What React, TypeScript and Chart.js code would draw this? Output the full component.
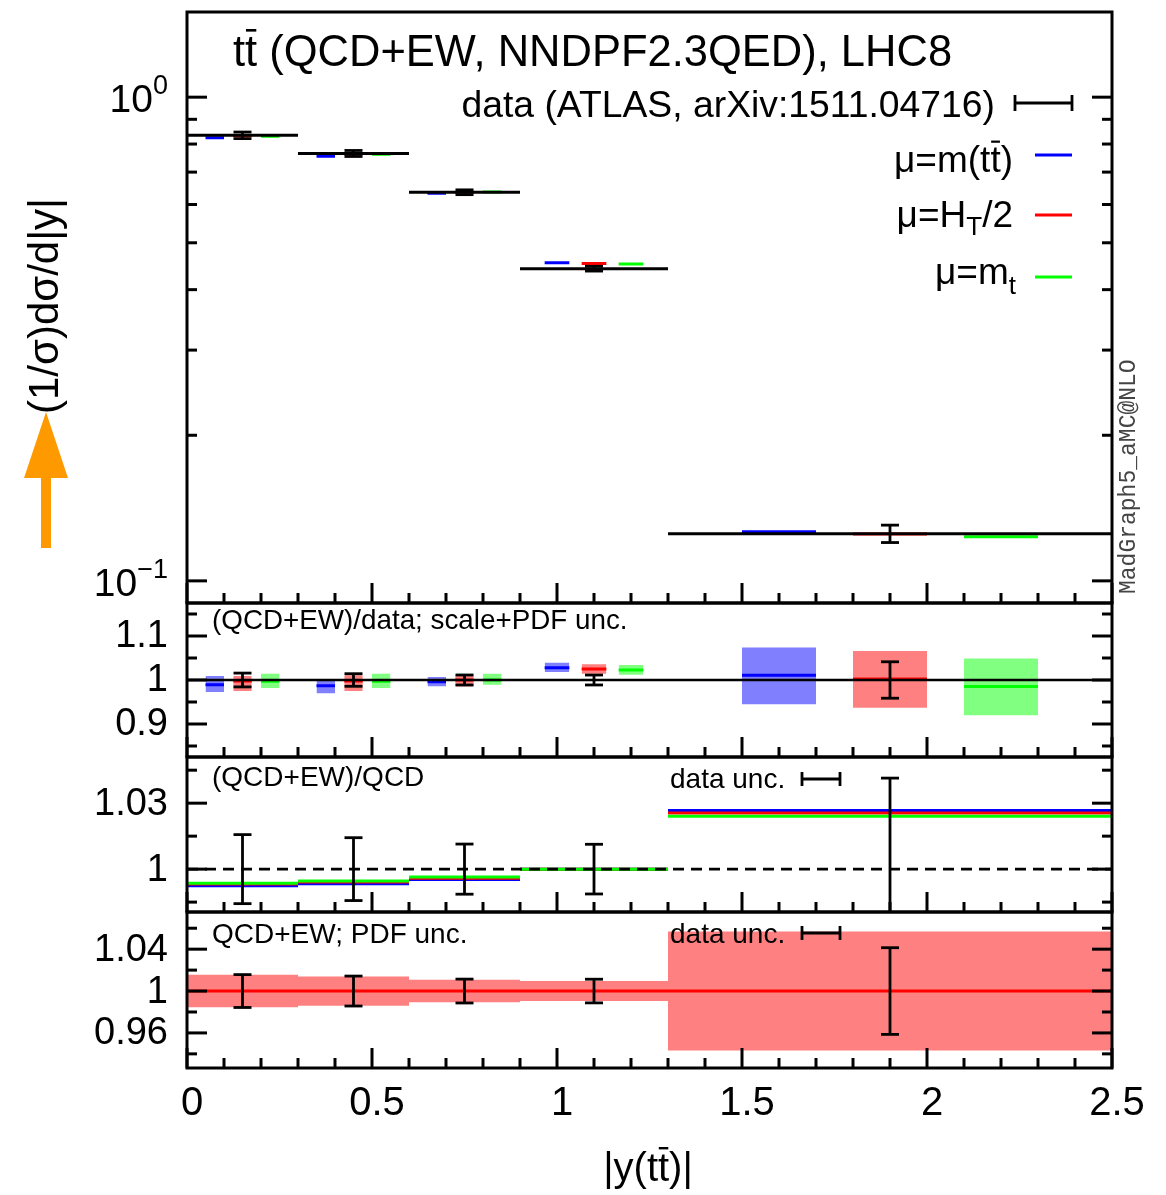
import React, { useEffect, useRef } from 'react';
import { Chart, registerables } from 'chart.js';

Chart.register(...registerables);

// ---------------- data ----------------
const binLo = [0, 0.3, 0.6, 0.9, 1.3];
const binHi = [0.3, 0.6, 0.9, 1.3, 2.5];

// top panel: normalised distribution
const dataNorm = [0.834, 0.765, 0.636, 0.442, 0.1252];
const dataRelErr = [0.0157, 0.0143, 0.0114, 0.0113, 0.0414];
const normMtt = [0.824, 0.755, 0.633, 0.4546, 0.1264];
const normHT2 = [0.832, 0.763, 0.636, 0.4533, 0.125];
const normMt = [0.83, 0.762, 0.637, 0.452, 0.1234];

// (QCD+EW)/data ; scale+PDF unc.
const ratioMtt = [0.989, 0.987, 0.996, 1.028, 1.011];
const ratioMttLo = [0.973, 0.97, 0.986, 1.018, 0.945];
const ratioMttHi = [1.009, 1.002, 1.007, 1.039, 1.074];
const ratioHT2 = [0.998, 0.998, 1.0, 1.025, 1.002];
const ratioHT2Lo = [0.975, 0.975, 0.986, 1.014, 0.937];
const ratioHT2Hi = [1.009, 1.011, 1.011, 1.036, 1.066];
const ratioMt = [0.997, 0.997, 1.0, 1.023, 0.985];
const ratioMtLo = [0.982, 0.982, 0.989, 1.012, 0.92];
const ratioMtHi = [1.014, 1.014, 1.014, 1.034, 1.049];

// (QCD+EW)/QCD
const ewMtt = [0.9924, 0.9933, 0.9953, 1.0, 1.0267];
const ewHT2 = [0.9932, 0.9941, 0.9958, 1.0, 1.0255];
const ewMt = [0.9936, 0.9946, 0.9964, 1.0, 1.0241];

// QCD+EW ; PDF unc.
const pdfCentral = [1, 1, 1, 1, 1];
const pdfRelUnc = [0.0155, 0.014, 0.0108, 0.0095, 0.0569];

// ticks
const xMajorTicks = [0, 0.5, 1, 1.5, 2, 2.5];
const xTickLabels = ['0', '0.5', '1', '1.5', '2', '2.5'];
const xMinorTicks = [0.1, 0.2, 0.3, 0.4, 0.6, 0.7, 0.8, 0.9, 1.1, 1.2, 1.3, 1.4, 1.6, 1.7, 1.8, 1.9, 2.1, 2.2, 2.3, 2.4];
const p1MajorTicks = [0.1, 1];
const p1MinorTicks = [0.2, 0.3, 0.4, 0.5, 0.6, 0.7, 0.8, 0.9];
const p2MajorTicks = [0.9, 1, 1.1];
const p2TickLabels = ['0.9', '1', '1.1'];
const p2MinorTicks = [0.85, 0.95, 1.05, 1.15];
const p3MajorTicks = [1, 1.03];
const p3TickLabels = ['1', '1.03'];
const p3MinorTicks = [0.985, 1.015, 1.045];
const p4MajorTicks = [0.96, 1, 1.04];
const p4TickLabels = ['0.96', '1', '1.04'];
const p4MinorTicks = [0.94, 0.98, 1.02, 1.06];

// ---------------- style / layout ----------------
const W = 1166;
const H = 1195;
const PLOT_L = 187;
const PLOT_R = 1112;
const FONT = '"Liberation Sans", Arial, Helvetica, sans-serif';
const BLUE = '#0000ff';
const RED = '#ff0000';
const GREEN = '#00ff00';
const BLUE_BAND = '#8080ff';
const RED_BAND = '#ff8080';
const GREEN_BAND = '#80ff80';
const SUB = { mtt: [1 / 6, 1 / 3], ht2: [5 / 12, 7 / 12], mt: [2 / 3, 5 / 6] };

type Pt = { x: number; y: number | null };

function segs(x0: number[], x1: number[], ys: number[]): Pt[] {
  const pts: Pt[] = [];
  for (let i = 0; i < ys.length; i++) {
    pts.push({ x: x0[i], y: ys[i] }, { x: x1[i], y: ys[i] }, { x: x1[i], y: null });
  }
  return pts;
}
const subLo = (f: number[]) => binLo.map((l, i) => l + (binHi[i] - l) * f[0]);
const subHi = (f: number[]) => binLo.map((l, i) => l + (binHi[i] - l) * f[1]);
const centers = binLo.map((l, i) => (l + binHi[i]) / 2);

function lineDs(data: Pt[], color: string, width: number, dash: number[] = []) {
  return {
    type: 'line',
    data,
    borderColor: color,
    borderWidth: width,
    borderDash: dash,
    borderCapStyle: 'butt',
    pointRadius: 0,
    fill: false,
    spanGaps: false,
    tension: 0,
  };
}
function boxDs(x0: number, x1: number, lo: number, hi: number, color: string) {
  return {
    type: 'line',
    data: [
      { x: x0, y: hi },
      { x: x1, y: hi },
    ],
    borderColor: 'rgba(0,0,0,0)',
    borderWidth: 1,
    pointRadius: 0,
    fill: { value: lo },
    backgroundColor: color,
    tension: 0,
  };
}

type Part = { t: string; size?: number; dy?: number; bar?: boolean };
function drawRich(ctx: CanvasRenderingContext2D, parts: Part[], x: number, y: number, align: string, base: number) {
  const widths = parts.map((p) => {
    ctx.font = `${p.size ?? base}px ${FONT}`;
    return ctx.measureText(p.t).width;
  });
  const total = widths.reduce((a, b) => a + b, 0);
  let cx = align === 'left' ? x : align === 'right' ? x - total : x - total / 2;
  ctx.textAlign = 'left';
  ctx.textBaseline = 'alphabetic';
  ctx.fillStyle = '#000';
  ctx.strokeStyle = '#000';
  parts.forEach((p, i) => {
    const s = p.size ?? base;
    ctx.font = `${s}px ${FONT}`;
    ctx.fillText(p.t, cx, y + (p.dy ?? 0));
    if (p.bar) {
      ctx.lineWidth = Math.max(2, s * 0.06);
      ctx.beginPath();
      ctx.moveTo(cx + s * 0.02, y - s * 0.82);
      ctx.lineTo(cx + widths[i] - s * 0.02, y - s * 0.82);
      ctx.stroke();
    }
    cx += widths[i];
  });
}

function hLine(ctx: CanvasRenderingContext2D, x0: number, y0: number, x1: number, y1: number) {
  ctx.beginPath();
  ctx.moveTo(x0, y0);
  ctx.lineTo(x1, y1);
  ctx.stroke();
}

function legendErr(ctx: CanvasRenderingContext2D, x0: number, x1: number, y: number, h: number) {
  ctx.strokeStyle = '#000';
  ctx.lineWidth = 2.8;
  hLine(ctx, x0, y, x1, y);
  hLine(ctx, x0, y - h, x0, y + h);
  hLine(ctx, x1, y - h, x1, y + h);
}

type ErrSet = { x: number[]; lo: number[]; hi: number[] };
type Spec = {
  top: number;
  bottom: number;
  yType: string;
  yMin: number;
  yMax: number;
  datasets: any[];
  errs: ErrSet;
  yMajor: number[];
  yMinor: number[];
  yLabels?: string[];
  xLabels?: boolean;
  extra?: (ctx: CanvasRenderingContext2D, chart: any) => void;
};

function decoPlugin(spec: Spec) {
  return {
    id: 'deco',
    afterDatasetsDraw(chart: any) {
      const ctx: CanvasRenderingContext2D = chart.ctx;
      const xs = chart.scales.x;
      const ys = chart.scales.y;
      const a = chart.chartArea;
      // error bars
      ctx.save();
      ctx.beginPath();
      ctx.rect(a.left, a.top, a.right - a.left, a.bottom - a.top);
      ctx.clip();
      ctx.strokeStyle = '#000';
      ctx.lineWidth = 2.8;
      spec.errs.x.forEach((xv, i) => {
        const px = xs.getPixelForValue(xv);
        const p1 = ys.getPixelForValue(spec.errs.lo[i]);
        const p2 = ys.getPixelForValue(spec.errs.hi[i]);
        hLine(ctx, px, p1, px, p2);
        hLine(ctx, px - 9, p1, px + 9, p1);
        hLine(ctx, px - 9, p2, px + 9, p2);
      });
      ctx.restore();

      ctx.save();
      ctx.strokeStyle = '#000';
      ctx.lineWidth = 3;
      // x ticks (bottom, inward)
      xMajorTicks.forEach((v) => {
        const px = xs.getPixelForValue(v);
        hLine(ctx, px, a.bottom, px, a.bottom - 20);
      });
      xMinorTicks.forEach((v) => {
        const px = xs.getPixelForValue(v);
        hLine(ctx, px, a.bottom, px, a.bottom - 10);
      });
      // y ticks both sides
      spec.yMajor.forEach((v) => {
        const py = ys.getPixelForValue(v);
        hLine(ctx, a.left, py, a.left + 20, py);
        hLine(ctx, a.right, py, a.right - 20, py);
      });
      spec.yMinor.forEach((v) => {
        const py = ys.getPixelForValue(v);
        hLine(ctx, a.left, py, a.left + 10, py);
        hLine(ctx, a.right, py, a.right - 10, py);
      });
      // frame
      ctx.strokeRect(a.left, a.top, a.right - a.left, a.bottom - a.top);

      // y labels
      if (spec.yLabels) {
        ctx.fillStyle = '#000';
        ctx.font = `38px ${FONT}`;
        ctx.textAlign = 'right';
        ctx.textBaseline = 'middle';
        spec.yMajor.forEach((v, i) => {
          ctx.fillText(spec.yLabels![i], 168, ys.getPixelForValue(v) + 1);
        });
      }
      // x labels
      if (spec.xLabels) {
        ctx.fillStyle = '#000';
        ctx.font = `40px ${FONT}`;
        ctx.textAlign = 'center';
        ctx.textBaseline = 'alphabetic';
        xMajorTicks.forEach((v, i) => {
          ctx.fillText(xTickLabels[i], xs.getPixelForValue(v) + 5, 1115);
        });
      }
      if (spec.extra) spec.extra(ctx, chart);
      ctx.restore();
    },
  };
}

function makeChart(canvas: HTMLCanvasElement, spec: Spec) {
  const datasets = spec.datasets.map((d, i) => ({ ...d, order: -i }));
  return new Chart(canvas, {
    type: 'line',
    data: { datasets },
    options: {
      animation: false,
      responsive: false,
      maintainAspectRatio: false,
      devicePixelRatio: 1,
      events: [],
      layout: { padding: { left: PLOT_L, right: W - PLOT_R, top: spec.top, bottom: H - spec.bottom } },
      plugins: { legend: { display: false }, tooltip: { enabled: false }, title: { display: false } },
      scales: {
        x: { type: 'linear', min: 0, max: 2.5, display: false, bounds: 'data' },
        y: { type: spec.yType, min: spec.yMin, max: spec.yMax, display: false, bounds: 'data' },
      },
      elements: { point: { radius: 0 }, line: { tension: 0 } },
    } as any,
    plugins: [decoPlugin(spec)],
  } as any);
}

// ---------------- panel specs ----------------
function buildSpecs(): Spec[] {
  const ratioLo = dataRelErr.map((e) => 1 - e);
  const ratioHi = dataRelErr.map((e) => 1 + e);

  // panel 1
  const p1: Spec = {
    top: 12,
    bottom: 603,
    yType: 'logarithmic',
    yMin: 0.09,
    yMax: 1.5,
    datasets: [
      lineDs(segs(subLo(SUB.mtt), subHi(SUB.mtt), normMtt), BLUE, 3),
      lineDs(segs(subLo(SUB.ht2), subHi(SUB.ht2), normHT2), RED, 3),
      lineDs(segs(subLo(SUB.mt), subHi(SUB.mt), normMt), GREEN, 3),
      lineDs(segs(binLo, binHi, dataNorm), '#000', 3),
    ],
    errs: {
      x: centers,
      lo: dataNorm.map((v, i) => v * (1 - dataRelErr[i])),
      hi: dataNorm.map((v, i) => v * (1 + dataRelErr[i])),
    },
    yMajor: p1MajorTicks,
    yMinor: p1MinorTicks,
    extra: (ctx, chart) => {
      const ys = chart.scales.y;
      // log tick labels
      const y0 = ys.getPixelForValue(1);
      const y1 = ys.getPixelForValue(0.1);
      drawRich(ctx, [{ t: '10' }, { t: '0', size: 27, dy: -18 }], 168, y0 + 15, 'right', 39);
      drawRich(ctx, [{ t: '10' }, { t: '\u22121', size: 27, dy: -18 }], 168, y1 + 15, 'right', 39);
      // title
      drawRich(ctx, [{ t: 't' }, { t: 't', bar: true }, { t: ' (QCD+EW, NNDPF2.3QED), LHC8' }], 233, 66, 'left', 43.5);
      // legend
      drawRich(ctx, [{ t: 'data (ATLAS, arXiv:1511.04716)' }], 995, 117, 'right', 37.3);
      legendErr(ctx, 1015, 1072, 103, 8);
      drawRich(ctx, [{ t: '\u03bc=m(t' }, { t: 't', bar: true }, { t: ')' }], 1013, 172, 'right', 37);
      drawRich(ctx, [{ t: '\u03bc=H' }, { t: 'T', size: 26, dy: 8 }, { t: '/2' }], 1013, 227, 'right', 37);
      drawRich(ctx, [{ t: '\u03bc=m' }, { t: 't', size: 26, dy: 10 }], 1016, 284, 'right', 37);
      ctx.lineWidth = 3;
      ctx.strokeStyle = BLUE;
      hLine(ctx, 1035, 155, 1072, 155);
      ctx.strokeStyle = RED;
      hLine(ctx, 1035, 215, 1072, 215);
      ctx.strokeStyle = GREEN;
      hLine(ctx, 1035, 277, 1072, 277);
      // y axis title
      ctx.save();
      ctx.translate(58, 306);
      ctx.rotate(-Math.PI / 2);
      ctx.font = `42px ${FONT}`;
      ctx.fillStyle = '#000';
      ctx.textAlign = 'center';
      ctx.textBaseline = 'alphabetic';
      ctx.fillText('(1/\u03c3)d\u03c3/d|y|', 0, 0);
      ctx.restore();
      // orange arrow
      ctx.fillStyle = '#ff9900';
      ctx.beginPath();
      ctx.moveTo(46, 412);
      ctx.lineTo(68, 478);
      ctx.lineTo(51, 478);
      ctx.lineTo(51, 548);
      ctx.lineTo(41, 548);
      ctx.lineTo(41, 478);
      ctx.lineTo(24, 478);
      ctx.closePath();
      ctx.fill();
      // generator tag
      ctx.save();
      ctx.translate(1135, 594);
      ctx.rotate(-Math.PI / 2);
      ctx.font = '23px "Liberation Mono", "DejaVu Sans Mono", monospace';
      ctx.fillStyle = '#444';
      ctx.textAlign = 'left';
      ctx.textBaseline = 'alphabetic';
      ctx.fillText('MadGraph5_aMC@NLO', 0, 0);
      ctx.restore();
    },
  };

  // panel 2
  const p2ds: any[] = [];
  const bandSets: [number[], number[], number[], string][] = [
    [SUB.mtt, ratioMttLo, ratioMttHi, BLUE_BAND],
    [SUB.ht2, ratioHT2Lo, ratioHT2Hi, RED_BAND],
    [SUB.mt, ratioMtLo, ratioMtHi, GREEN_BAND],
  ];
  bandSets.forEach(([f, lo, hi, c]) => {
    const x0 = subLo(f);
    const x1 = subHi(f);
    lo.forEach((l, i) => p2ds.push(boxDs(x0[i], x1[i], l, hi[i], c)));
  });
  p2ds.push(lineDs(segs(subLo(SUB.mtt), subHi(SUB.mtt), ratioMtt), BLUE, 3));
  p2ds.push(lineDs(segs(subLo(SUB.ht2), subHi(SUB.ht2), ratioHT2), RED, 3));
  p2ds.push(lineDs(segs(subLo(SUB.mt), subHi(SUB.mt), ratioMt), GREEN, 3));
  p2ds.push(lineDs([{ x: 0, y: 1 }, { x: 2.5, y: 1 }], '#000', 2.6));
  const p2: Spec = {
    top: 603,
    bottom: 757,
    yType: 'linear',
    yMin: 0.825,
    yMax: 1.175,
    datasets: p2ds,
    errs: { x: centers, lo: ratioLo, hi: ratioHi },
    yMajor: p2MajorTicks,
    yMinor: p2MinorTicks,
    yLabels: p2TickLabels,
    extra: (ctx) => {
      drawRich(ctx, [{ t: '(QCD+EW)/data; scale+PDF unc.' }], 212, 629, 'left', 27.8);
    },
  };

  // panel 3
  const p3: Spec = {
    top: 757,
    bottom: 912,
    yType: 'linear',
    yMin: 0.9805,
    yMax: 1.051,
    datasets: [
      lineDs(segs(binLo, binHi, ewMtt), BLUE, 3),
      lineDs(segs(binLo, binHi, ewHT2), RED, 3),
      lineDs(segs(binLo, binHi, ewMt), GREEN, 3),
      lineDs([{ x: 0, y: 1 }, { x: 2.5, y: 1 }], '#000', 2.8, [11, 7]),
    ],
    errs: { x: centers, lo: ratioLo, hi: ratioHi },
    yMajor: p3MajorTicks,
    yMinor: p3MinorTicks,
    yLabels: p3TickLabels,
    extra: (ctx) => {
      drawRich(ctx, [{ t: '(QCD+EW)/QCD' }], 212, 786, 'left', 28);
      drawRich(ctx, [{ t: 'data unc.' }], 670, 788, 'left', 28);
      legendErr(ctx, 802, 840, 779, 7);
    },
  };

  // panel 4
  const p4ds: any[] = [];
  pdfCentral.forEach((c, i) => p4ds.push(boxDs(binLo[i], binHi[i], c - pdfRelUnc[i], c + pdfRelUnc[i], RED_BAND)));
  p4ds.push(lineDs(segs(binLo, binHi, pdfCentral), RED, 3));
  const p4: Spec = {
    top: 912,
    bottom: 1068,
    yType: 'linear',
    yMin: 0.9265,
    yMax: 1.0755,
    datasets: p4ds,
    errs: { x: centers, lo: ratioLo, hi: ratioHi },
    yMajor: p4MajorTicks,
    yMinor: p4MinorTicks,
    yLabels: p4TickLabels,
    xLabels: true,
    extra: (ctx) => {
      drawRich(ctx, [{ t: 'QCD+EW; PDF unc.' }], 212, 943, 'left', 28);
      drawRich(ctx, [{ t: 'data unc.' }], 670, 943, 'left', 28);
      legendErr(ctx, 802, 840, 933, 7);
      drawRich(ctx, [{ t: '|y(t' }, { t: 't', bar: true }, { t: ')|' }], 648, 1181, 'center', 40);
    },
  };
  return [p1, p2, p3, p4];
}

export default function App() {
  const r0 = useRef<HTMLCanvasElement>(null);
  const r1 = useRef<HTMLCanvasElement>(null);
  const r2 = useRef<HTMLCanvasElement>(null);
  const r3 = useRef<HTMLCanvasElement>(null);
  const refs = [r0, r1, r2, r3];
  useEffect(() => {
    const specs = buildSpecs();
    const charts = specs.map((s, i) => makeChart(refs[i].current as HTMLCanvasElement, s));
    return () => charts.forEach((c) => c.destroy());
  }, []);
  return (
    <div style={{ position: 'absolute', left: 0, top: 0, width: W, height: H, background: '#fff', overflow: 'hidden' }}>
      {refs.map((r, i) => (
        <canvas
          key={i}
          ref={r}
          width={W}
          height={H}
          style={{ position: 'absolute', left: 0, top: 0, width: W, height: H }}
        />
      ))}
    </div>
  );
}
